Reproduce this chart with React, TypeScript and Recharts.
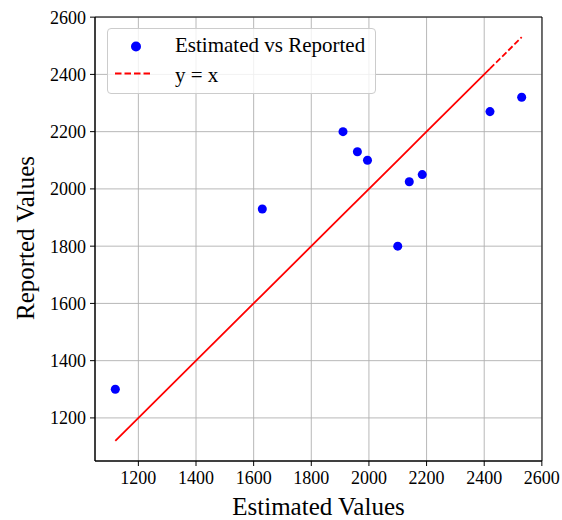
import { ScatterChart, Scatter, XAxis, YAxis, ZAxis, CartesianGrid, Legend, ReferenceArea } from 'recharts';

const estimated = [1120, 1630, 1910, 1960, 1995, 2100, 2140, 2185, 2420, 2530];
const reported = [1300, 1930, 2200, 2130, 2100, 1800, 2025, 2050, 2270, 2320];

const xTicks = [1200, 1400, 1600, 1800, 2000, 2200, 2400, 2600];
const yTicks = [1200, 1400, 1600, 1800, 2000, 2200, 2400, 2600];

const DOMAIN: [number, number] = [1049.5, 2600.5];
const FONT = '"Liberation Serif", "Times New Roman", serif';

const points = estimated.map((x, i) => ({ x, y: reported[i] }));

// y = x through the estimated values; the original line overlaps itself
// everywhere except the last stretch, so only that bit shows its dashes
const sorted = [...estimated].sort((a, b) => a - b);
const identitySolid = sorted.slice(0, -1).map((x) => ({ x, y: x }));
const identityDashed = sorted.slice(-2).map((x) => ({ x, y: x }));

const LegendBox = () => (
  <div
    style={{
      width: 269,
      height: 66,
      background: 'rgba(255,255,255,0.8)',
      border: '1px solid #cccccc',
      borderRadius: 4,
      boxSizing: 'border-box',
    }}
  >
    <svg width={269} height={66} style={{ position: 'absolute', left: 0, top: 0 }}>
      <circle cx={29} cy={18.5} r={5} fill="#0000ff" />
      <text x={68} y={23.5} fontFamily={FONT} fontSize={21} fill="#000">
        Estimated vs Reported
      </text>
      <line x1={8} y1={45.5} x2={46} y2={45.5} stroke="#ff0000" strokeWidth={1.8} strokeDasharray="6.5 3" />
      <text x={68} y={54} fontFamily={FONT} fontSize={21} fill="#000">
        y = x
      </text>
    </svg>
  </div>
);

const YLabel = () => (
  <text
    x={25}
    y={238}
    transform="rotate(-90, 25, 238)"
    textAnchor="middle"
    dominantBaseline="central"
    fontFamily={FONT}
    fontSize={25}
    fill="#000"
  >
    Reported Values
  </text>
);

const XLabel = () => (
  <text x={318.5} y={515} textAnchor="middle" fontFamily={FONT} fontSize={25} fill="#000">
    Estimated Values
  </text>
);

export default function App() {
  const tickStyle = { fontSize: 18, fill: '#000', fontFamily: FONT };
  return (
    <div style={{ position: 'absolute', left: 0, top: 0 }}>
      <ScatterChart width={562} height={520} margin={{ top: 17, right: 20, left: 0, bottom: 0 }}>
        <CartesianGrid stroke="#b0b0b0" strokeWidth={0.9} horizontalValues={yTicks} verticalValues={xTicks} />
        <XAxis
          type="number"
          dataKey="x"
          domain={DOMAIN}
          ticks={xTicks}
          allowDataOverflow
          height={59}
          tickSize={5}
          tickMargin={5}
          tick={tickStyle}
          tickLine={{ stroke: '#000' }}
          axisLine={{ stroke: '#000' }}
          label={<XLabel />}
        />
        <YAxis
          type="number"
          dataKey="y"
          domain={DOMAIN}
          ticks={yTicks}
          allowDataOverflow
          width={95}
          tickSize={5}
          tickMargin={4}
          tick={tickStyle}
          tickLine={{ stroke: '#000' }}
          axisLine={{ stroke: '#000' }}
          label={<YLabel />}
        />
        <ZAxis range={[80, 80]} />
        <ReferenceArea x1={DOMAIN[0]} x2={DOMAIN[1]} y1={DOMAIN[0]} y2={DOMAIN[1]} fill="none" stroke="#000" strokeWidth={1} />
        <Scatter
          name="y = x"
          data={identitySolid}
          line={{ stroke: '#ff0000', strokeWidth: 1.8 }}
          lineType="joint"
          shape={() => <g />}
          isAnimationActive={false}
        />
        <Scatter
          name="y = x (end)"
          data={identityDashed}
          line={{ stroke: '#ff0000', strokeWidth: 1.8, strokeDasharray: '6 2.6' }}
          lineType="joint"
          shape={() => <g />}
          isAnimationActive={false}
        />
        <Scatter name="Estimated vs Reported" data={points} fill="#0000ff" shape="circle" isAnimationActive={false} />
        <Legend
          layout="horizontal"
          verticalAlign="middle"
          content={<LegendBox />}
          wrapperStyle={{ top: 28, left: 107, width: 269, height: 66 }}
        />
      </ScatterChart>
    </div>
  );
}
